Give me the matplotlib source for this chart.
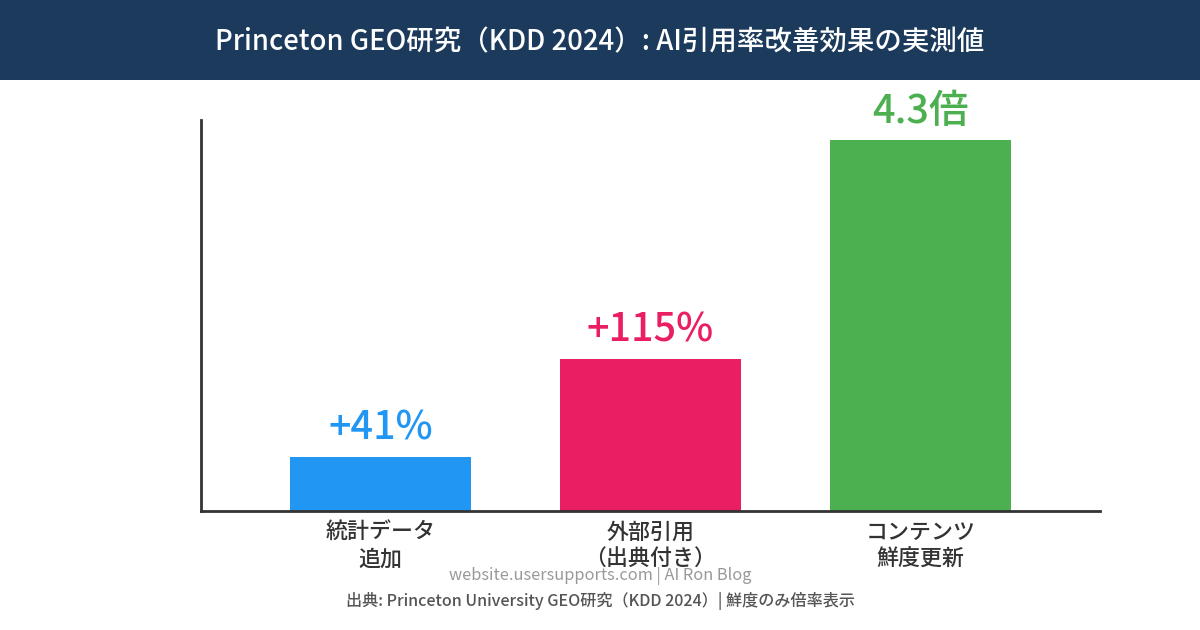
import matplotlib.pyplot as plt
from matplotlib.patches import Rectangle

plt.rcParams['font.family'] = ['Noto Sans CJK JP', 'DejaVu Sans']

# data
categories = ['統計データ\n追加', '外部引用\n（出典付き）', 'コンテンツ\n鮮度更新']
values = [0.41, 1.15, 2.8]
value_labels = ['+41%', '+115%', '4.3倍']
colors = ['#2196F3', '#E91E63', '#4CAF50']

title = 'Princeton GEO研究（KDD 2024）: AI引用率改善効果の実測値'
watermark = 'website.usersupports.com | AI Ron Blog'
source = '出典: Princeton University GEO研究（KDD 2024）| 鮮度のみ倍率表示'

fig = plt.figure(figsize=(12, 6.3), dpi=100)
fig.patch.set_facecolor('white')

# header band
fig.patches.append(Rectangle((0, 1 - 80 / 630), 1, 80 / 630, transform=fig.transFigure,
                             facecolor='#1b3a5c', edgecolor='none', zorder=0))
fig.text(0.5, 1 - 42 / 630, title, color='white', fontsize=19.8, fontweight='medium',
         ha='center', va='center')

ax = fig.add_axes([201 / 1200, 119 / 630, 899 / 1200, 391 / 630])
x = list(range(len(categories)))
bars = ax.bar(x, values, width=0.67, color=colors)

for b, lab, c in zip(bars, value_labels, colors):
    ax.annotate(lab, (b.get_x() + b.get_width() / 2, b.get_height()),
                xytext=(0, 12), textcoords='offset points',
                ha='center', va='baseline', fontsize=28.5, color=c, fontweight='medium')

ax.set_xlim(-0.665, 2.665)
ax.set_ylim(0, 2.95)
ax.set_xticks(x)
ax.set_xticklabels(categories, fontsize=15.8, color='#333333', linespacing=1.2,
                   fontweight='medium')
ax.tick_params(axis='x', length=0, pad=7)
ax.set_yticks([])
for s in ['top', 'right']:
    ax.spines[s].set_visible(False)
for s in ['left', 'bottom']:
    ax.spines[s].set_color('#333333')
    ax.spines[s].set_linewidth(2)

fig.text(0.5, 1 - 576 / 630, watermark, color='#999999', fontsize=11.8, ha='center', va='center')
fig.text(0.5, 1 - 601 / 630, source, color='#555555', fontsize=11.6, ha='center', va='center',
         fontweight='medium')

fig.savefig('out.png', dpi=100)
